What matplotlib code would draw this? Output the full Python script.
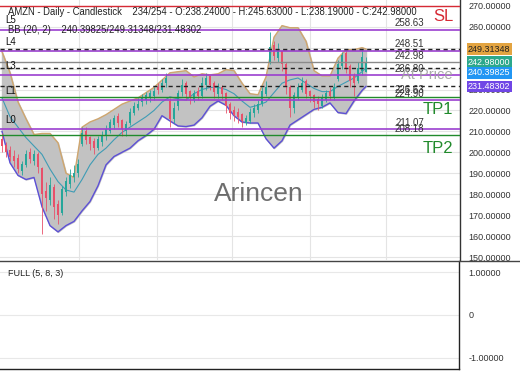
import numpy as np
import matplotlib
matplotlib.use("Agg")
import matplotlib.pyplot as plt
from matplotlib.lines import Line2D
import matplotlib.transforms as mtransforms

plt.rcParams['font.family'] = ['Liberation Sans', 'DejaVu Sans']

# ---- candles (one per bar) ----
opens = [206, 203, 201, 198, 197, 191, 194, 200, 196, 199,
         192, 181, 177, 183, 175, 171, 181, 185, 188, 190,
         204, 210, 207, 205, 202, 205, 208, 210, 213, 217,
         215, 210, 214, 219, 221, 224, 225, 226, 227, 231,
         230, 233, 224, 216, 222, 229, 233, 229, 225, 229,
         227, 232, 236, 233, 228, 231, 228, 223, 220, 219,
         218, 214, 215, 219, 220, 223, 228, 243, 251, 245,
         248, 242, 231, 221, 226, 230, 234, 229, 227, 225,
         222, 225, 229, 226, 235, 241, 247, 241, 236, 234,
         239, 238.24]
closes = [203, 200, 198, 196, 192, 194, 199, 197, 199, 193,
          180, 178, 184, 174, 170, 182, 186, 189, 190, 194,
          209, 206, 204, 202, 206, 208, 211, 214, 216, 214,
          211, 213, 219, 222, 223, 226, 227, 228, 229, 230,
          233, 235, 216, 221, 228, 232, 228, 226, 228, 227,
          233, 235, 232, 229, 231, 228, 222, 219, 218, 217,
          215, 216, 219, 221, 223, 229, 231, 250, 246, 249,
          242, 231, 221, 227, 231, 233, 228, 227, 224, 223,
          226, 228, 227, 231, 242, 246, 240, 234, 233, 240,
          245, 242.98]
highs = [209, 205, 203, 201, 199, 196, 201, 202, 201, 200,
         193, 186, 188, 185, 177, 184, 188, 192, 194, 197,
         212, 212, 208, 207, 208, 210, 213, 216, 218, 219,
         216, 215, 221, 224, 226, 228, 229, 230, 231, 233,
         235, 238, 226, 224, 230, 235, 234, 230, 230, 231,
         236, 238, 237, 234, 233, 232, 229, 224, 222, 221,
         219, 218, 221, 223, 225, 231, 234, 257.6, 253, 252,
         249, 243, 232, 229, 233, 236, 235, 230, 228, 227,
         228, 230, 231, 233, 244, 248, 249, 242, 238, 243,
         249, 245.63]
lows = [200, 198, 196, 193, 190, 189, 193, 195, 194, 190,
        161, 172, 175, 168, 166, 170, 179, 183, 186, 188,
        203, 204, 201, 199, 201, 203, 206, 209, 211, 212,
        208, 208, 213, 218, 220, 222, 223, 224, 225, 228,
        229, 231, 212, 214, 220, 227, 225, 223, 224, 225,
        226, 230, 230, 226, 226, 225, 219, 216, 215, 214,
        212, 213, 214, 217, 219, 222, 227, 242, 244, 243,
        239, 228, 217, 219, 225, 229, 226, 224, 221, 220,
        221, 224, 225, 225, 234, 240, 238, 231, 227, 233,
        237, 238.19]

# ---- Bollinger bands (20, 2), read every other bar ----
bb_bars = [0, 2, 4, 6, 8, 10, 12, 14, 16, 18, 20, 22, 24, 26, 28, 30,
           32, 34, 36, 38, 40, 42, 44, 46, 48, 50, 52, 54, 56, 58, 60,
           62, 64, 66, 68, 70, 72, 74, 76, 78, 80, 82, 84, 86, 88, 90, 91]
bb_upper = [248, 238, 224, 216, 208.5, 209, 209, 204.5, 190, 188, 212,
            214.5, 216, 218, 220.5, 223, 224.5, 226, 228.5, 231, 234.5,
            238, 238.5, 239, 236, 237.5, 237, 237.5, 239.5, 239, 233,
            228, 227.5, 236, 255, 260.5, 259.5, 259.5, 253, 239, 236.5,
            236.5, 245, 249, 249, 250, 249.31348]
bb_middle = [226, 217, 212, 207, 203, 199, 192, 186, 182, 181, 187,
             194, 199, 202, 206, 209.5, 212, 214.5, 217, 220, 224,
             226.5, 225.5, 225, 228, 230, 231, 231, 230, 228, 224.5,
             221.5, 222.5, 224, 228.5, 233, 234.6, 235.5, 233, 230.5, 229,
             229, 231.5, 233.5, 235.5, 238.5, 240.39825]
bb_lower = [210, 195, 189, 187, 188, 174, 165, 162, 165, 167, 172,
            176.5, 184, 194, 198, 200, 202, 205.5, 208, 211, 217.5,
            215, 212.6, 212.3, 213, 216.5, 222, 224.5, 222.5, 217.5, 214.5,
            214, 214, 206.5, 202, 205.5, 213, 215.5, 218, 220.5, 221.5,
            223.6, 219, 218.5, 224.5, 229.5, 231.48302]

# ---- levels ----
level_names = ["L5", "L4", "L3", "L1", "L0"]
level_values = [258.63, 248.51, 236.80, 224.90, 211.07]
tp_values = [226.63, 208.18]
sl_value = 270.0
bb_now = [249.31348, 240.39825, 231.48302]
last_price = 242.98
price_labels = [258.63, 248.51, 242.98, 236.80, 226.63, 224.90, 211.07, 208.18]

# right-side badges: text, centre price, colour, text colour
badge_text = ["249.31348", "242.98000", "240.39825", "231.48302"]
badge_y = [249.3, 243.0, 238.0, 231.5]
badge_col = ["#e3a441", "#2ba88c", "#2196f3", "#7046e6"]
badge_txt_col = ["#222222", "white", "white", "white"]

W, H = 520, 390
fig = plt.figure(figsize=(W / 100, H / 100), dpi=100)
ax = fig.add_axes([0, 1 - 260 / H, 460 / W, 260 / H])
ax2 = fig.add_axes([0, 1 - 369 / H, 459 / W, 108 / H], sharex=ax)

x = np.arange(len(closes))
o = np.array(opens, float)
c = np.array(closes, float)
up = c >= o
cols = np.where(up, "#26a69a", "#e8506a")

# bands
ax.fill_between(bb_bars, bb_lower, bb_upper, color="#c2c2c2", zorder=1)
ax.plot(bb_bars, bb_upper, color="#cfa66e", lw=1.0, zorder=2)
ax.plot(bb_bars, bb_lower, color="#5c4fd6", lw=1.0, zorder=2)
ax.plot(bb_bars, bb_middle, color="#3f9cb5", lw=0.8, zorder=2)

# candles
ax.vlines(x, lows, highs, colors=cols, lw=0.6, zorder=3)
ax.bar(x, np.abs(c - o) + 0.3, bottom=np.minimum(o, c), width=0.5,
       color=cols, zorder=3)

trans = mtransforms.blended_transform_factory(ax.transAxes, ax.transData)

# horizontal levels
for v in level_values:
    ax.axhline(v, color="#9b3fcf", lw=1.2, zorder=4)
for v in tp_values:
    ax.axhline(v, color="#218a2c", lw=1.0, zorder=4)
for v in bb_now:
    ax.axhline(v, color="#222222", lw=1.0, ls=(0, (3, 2.5)), zorder=4)
ax.axhline(last_price, color="#8a8a8a", lw=1.0, zorder=4)
ax.axhline(sl_value, color="#d62a35", lw=1.0, zorder=4)

for name, v in zip(level_names, level_values):
    ax.annotate(name, (0.012, v), xycoords=trans, xytext=(0, 3),
                textcoords="offset points", fontsize=7, va="bottom",
                color="#111111", zorder=6)
for v in price_labels:
    ax.annotate(f"{v:.2f}", (0.922, v), xycoords=trans, xytext=(0, 1),
                textcoords="offset points", fontsize=7, va="bottom",
                ha="right", color="#333333", zorder=6)

ax.text(0.985, 265.0, "SL", transform=trans, color="#d62a35", fontsize=12,
        ha="right", va="center", zorder=6)
ax.text(0.985, 220.4, "TP1", transform=trans, color="#218a2c", fontsize=12,
        ha="right", va="center", zorder=6)
ax.text(0.985, 201.8, "TP2", transform=trans, color="#218a2c", fontsize=12,
        ha="right", va="center", zorder=6)
ax.text(0.983, 237.1, "At Price", transform=trans, color="#a0a0a0",
        fontsize=10.5, ha="right", va="center", alpha=0.9, zorder=6)
ax.text(0.563, 180.0, "Arincen", transform=trans, color="#555555",
        fontsize=19, ha="center", va="center", alpha=0.85, zorder=6)

ax.text(8 / 460, 1 - 12 / 260, "AMZN - Daily - Candlestick    234/254 - "
        "O:238.24000 - H:245.63000 - L:238.19000 - C:242.98000",
        transform=ax.transAxes, fontsize=6.85, va="center", color="#222222",
        zorder=6)
ax.text(8 / 460, 1 - 30 / 260, "BB (20, 2)    240.39825/249.31348/231.48302",
        transform=ax.transAxes, fontsize=6.85, va="center", color="#222222",
        zorder=6)

# badges on the price scale
for t, v, bc, tc in zip(badge_text, badge_y, badge_col, badge_txt_col):
    ax.text(1.0 + 8 / 460, v, t, transform=trans, fontsize=6.5, color=tc,
            va="center", ha="left", clip_on=False, zorder=7,
            bbox=dict(boxstyle="square,pad=0.15", fc=bc, ec="none"))

# axes styling: main
ax.set_xlim(-0.5, 114.5)
ax.set_ylim(148.57, 272.75)
ax.set_xticks([19.25, 38.75, 57.5, 77, 96])
ax.set_yticks(np.arange(150, 271, 10))
ax.yaxis.tick_right()
ax.yaxis.set_major_formatter(matplotlib.ticker.FormatStrFormatter("%.5f"))
ax.tick_params(axis="y", length=0, pad=6, labelsize=6.5, labelcolor="#333333")
ax.tick_params(axis="x", length=0, labelbottom=False)
ax.grid(True, color="#e4e4e4", lw=0.8, zorder=0)
ax.set_axisbelow(True)
for s in ["left", "top", "bottom"]:
    ax.spines[s].set_visible(False)
ax.spines["right"].set_color("#333333")
ax.spines["right"].set_linewidth(1.0)

# lower panel
ax2.set_ylim(-1.256, 1.256)
ax2.set_yticks([1, 0, -1])
ax2.set_yticklabels(["1.00000", "0", "-1.00000"])
ax2.yaxis.tick_right()
ax2.tick_params(axis="y", length=0, pad=7, labelsize=6.5, labelcolor="#333333")
ax2.tick_params(axis="x", length=0, labelbottom=False)
ax2.grid(True, axis="y", color="#e8e8e8", lw=0.8)
ax2.text(8 / 459, 1 - 12 / 108, "FULL (5, 8, 3)", transform=ax2.transAxes,
         fontsize=6.5, va="center", color="#222222")
for s in ["left", "top"]:
    ax2.spines[s].set_visible(False)
for s in ["right", "bottom"]:
    ax2.spines[s].set_color("#222222")
    ax2.spines[s].set_linewidth(1.0)

fig.add_artist(Line2D([0, 1], [1 - 260.5 / H] * 2, color="#444444", lw=1.0,
                      transform=fig.transFigure))

fig.savefig("out.png", dpi=100)
